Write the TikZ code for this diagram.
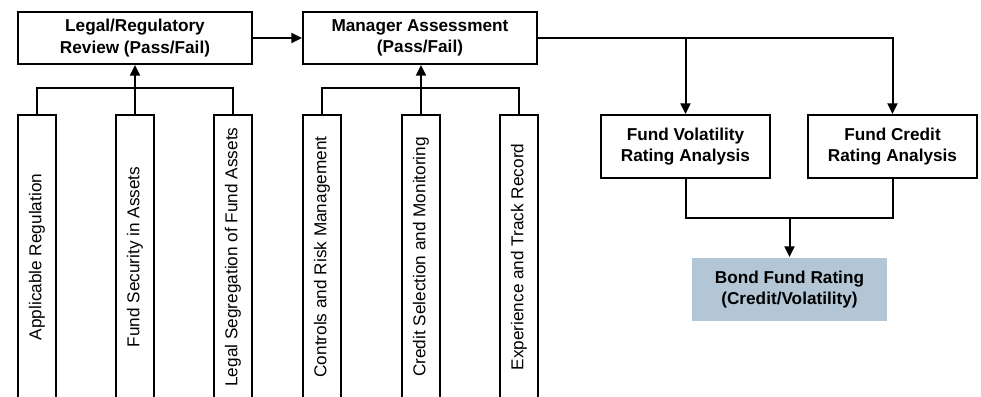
\documentclass[tikz,border=0pt]{standalone}
\usepackage{xcolor}
\usepackage{graphicx}
\usepackage{fontspec}
\setmainfont{Liberation Sans}
\usepackage{tikz}
\usetikzlibrary{arrows.meta}

\definecolor{ratingblue}{RGB}{179,198,214}

\begin{document}
\begin{tikzpicture}[x=0.75pt,y=0.75pt,yscale=-1,xscale=1,
    topbox/.style={draw,line width=1.5pt,align=center,font=\fontsize{12.9}{16.3}\selectfont\bfseries,inner sep=0pt},
    critbox/.style={draw,line width=1.5pt,minimum width=28.5pt,minimum height=213pt,inner sep=0pt,font=\fontsize{12.9}{15}\selectfont},
    link/.style={line width=1.5pt},
    flow/.style={line width=1.5pt,-{Triangle[length=8pt,width=7.5pt]}}]
            \clip (0,0) rectangle (981,396);
            \fill[white] (0,0) rectangle (981,396);

            % top row
            \node (legal) at (135,38) [topbox,minimum width=175.5pt,minimum height=39pt] {Legal/Regulatory\\Review (Pass/Fail)};
            \node (mgr) at (420,38) [topbox,minimum width=175.5pt,minimum height=39pt] {Manager Assessment\\(Pass/Fail)};
            \node (vol) at (685.5,146.5) [topbox,minimum width=126.75pt,minimum height=47.25pt] {Fund Volatility\\Rating Analysis};
            \node (cred) at (892.5,146.5) [topbox,minimum width=126.75pt,minimum height=47.25pt] {Fund Credit\\Rating Analysis};
            \node (bond) at (789.5,289.5) [topbox,draw=none,fill=ratingblue,minimum width=146.25pt,minimum height=47.25pt] {Bond Fund Rating\\(Credit/Volatility)};

            % criteria columns
            \node (reg) at (37,257) [critbox] {\rotatebox{90}{Applicable Regulation}};
            \node (sec) at (135,257) [critbox] {\rotatebox{90}{Fund Security in Assets}};
            \node (seg) at (233,257) [critbox] {\rotatebox{90}{Legal Segregation of Fund Assets}};
            \node (ctrl) at (322,257) [critbox] {\rotatebox{90}{Controls and Risk Management}};
            \node (csel) at (421,257) [critbox] {\rotatebox{90}{Credit Selection and Monitoring}};
            \node (exp) at (519,257) [critbox] {\rotatebox{90}{Experience and Track Record}};

            % connectors
            \draw [link] (reg.north) -- ++(0,-26) -| (seg.north);
            \draw [flow] (sec.north) -- (legal.south);
            \draw [link] (ctrl.north) -- ++(0,-26) -| (exp.north);
            \draw [flow] (csel.north) -- (csel.north |- mgr.south);
            \draw [flow] (legal.east) -- (mgr.west);
            \draw [flow] (mgr.east) -| (cred.north);
            \draw [flow] (vol.north |- mgr.east) -- (vol.north);
            \coordinate (join) at (bond.north |- 0,218);
            \draw [link] (vol.south) |- (join) -| (cred.south);
            \draw [flow] (join) -- (bond.north);
\end{tikzpicture}
\end{document}
